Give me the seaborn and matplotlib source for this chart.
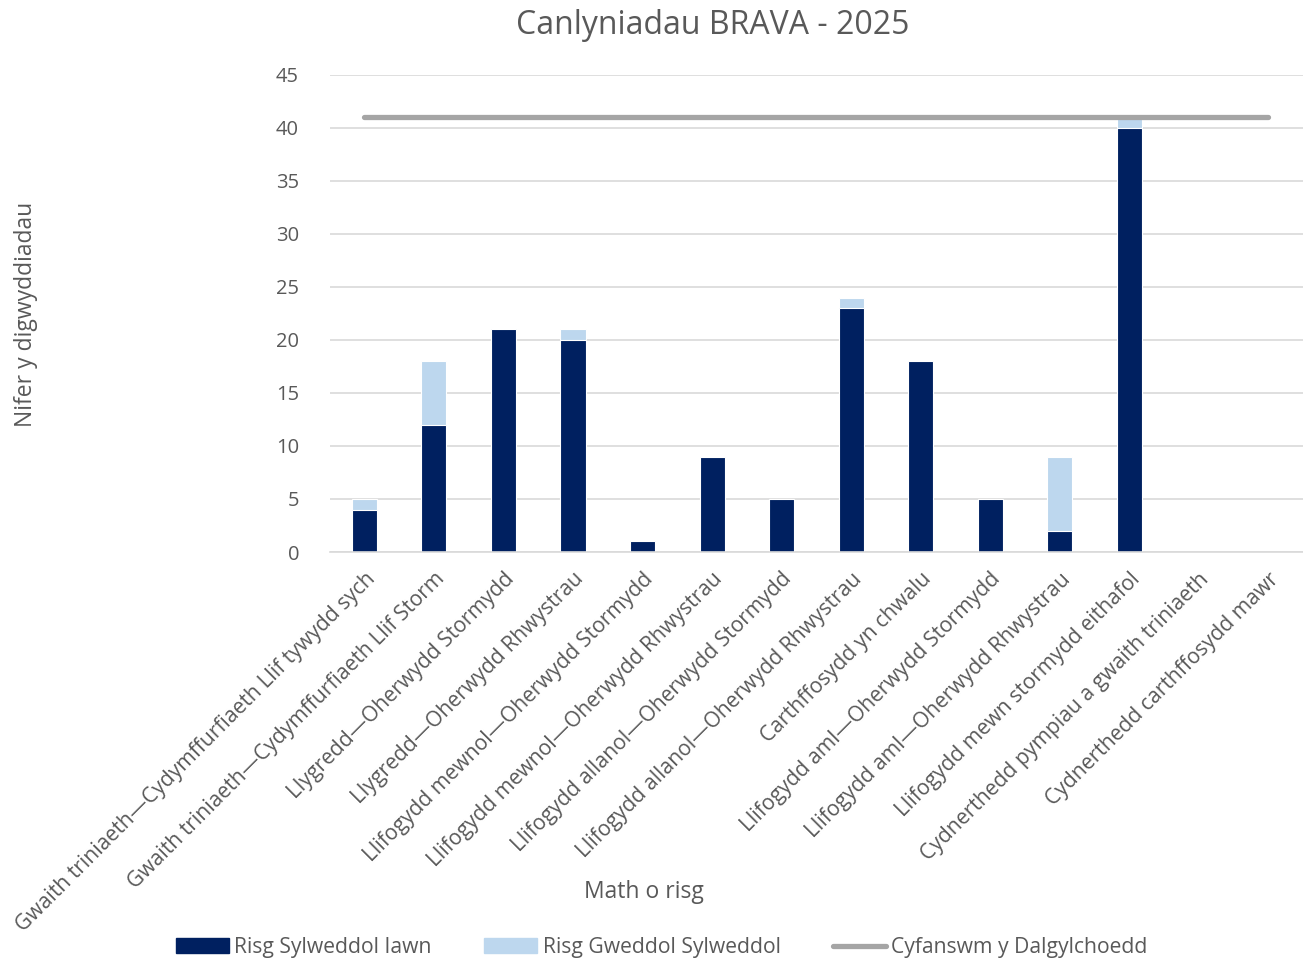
import matplotlib
matplotlib.use("Agg")
import matplotlib.pyplot as plt
import matplotlib.patches as mpatches
import matplotlib.lines as mlines
import seaborn as sns
import pandas as pd
import numpy as np

# data
categories = [
    "Gwaith triniaeth—Cydymffurfiaeth Llif tywydd sych",
    "Gwaith triniaeth—Cydymffurfiaeth Llif Storm",
    "Llygredd—Oherwydd Stormydd",
    "Llygredd—Oherwydd Rhwystrau",
    "Llifogydd mewnol—Oherwydd Stormydd",
    "Llifogydd mewnol—Oherwydd Rhwystrau",
    "Llifogydd allanol—Oherwydd Stormydd",
    "Llifogydd allanol—Oherwydd Rhwystrau",
    "Carthffosydd yn chwalu",
    "Llifogydd aml—Oherwydd Stormydd",
    "Llifogydd aml—Oherwydd Rhwystrau",
    "Llifogydd mewn stormydd eithafol",
    "Cydnerthedd pympiau a gwaith triniaeth",
    "Cydnerthedd carthffosydd mawr",
]
risg_iawn = [4, 12, 21, 20, 1, 9, 5, 23, 18, 5, 2, 40, 0, 0]
risg_gweddol = [1, 6, 0, 1, 0, 0, 0, 1, 0, 0, 7, 1, 0, 0]
cyfanswm = [41] * len(categories)

dark = "#002060"
light = "#BDD7EE"
grey_line = "#A5A5A5"
txt = "#595959"

sns.set_theme(style="white")
plt.rcParams["font.family"] = ["Open Sans", "DejaVu Sans"]

df = pd.DataFrame({"cat": categories, "iawn": risg_iawn, "gweddol": risg_gweddol})
df["total"] = df["iawn"] + df["gweddol"]

fig = plt.figure(figsize=(13.03, 9.59), dpi=100)
ax = fig.add_axes([0.253, 0.4244, 0.747, 0.4974])

sns.barplot(data=df, x="cat", y="total", color=light, width=0.36, ax=ax,
            saturation=1, edgecolor="white", linewidth=0.8)
sns.barplot(data=df, x="cat", y="iawn", color=dark, width=0.36, ax=ax,
            saturation=1, edgecolor="white", linewidth=0.8)
sns.lineplot(x=np.arange(len(categories)), y=cyfanswm, color=grey_line,
             linewidth=3.8, ax=ax, solid_capstyle="round")

ax.set_ylim(0, 45)
ax.set_xlim(-0.5, len(categories) - 0.5)
ax.set_yticks(range(0, 46, 5))
ax.yaxis.grid(True, color="#D9D9D9", linewidth=1.2)
ax.set_axisbelow(True)
for s in ["left", "right", "top"]:
    ax.spines[s].set_visible(False)
ax.spines["bottom"].set_color("#D9D9D9")
ax.spines["bottom"].set_linewidth(1.2)
ax.tick_params(axis="y", labelsize=14.5, colors=txt, pad=22, length=0)
ax.tick_params(axis="x", labelsize=15.2, colors=txt, length=0, pad=12)
ax.set_xticks(range(len(categories)))
ax.set_xticklabels(categories, rotation=45, ha="right", rotation_mode="anchor")
ax.set_xlabel("")
ax.set_ylabel("")

fig.text(0.547, 0.973, "Canlyniadau BRAVA - 2025", ha="center", va="center",
         fontsize=23, color=txt)
fig.text(0.02, 0.672, "Nifer y digwyddiadau", rotation=90, ha="center",
         va="center", fontsize=16.5, color=txt)
fig.text(0.494, 0.07, "Math o risg", ha="center", va="center",
         fontsize=16.5, color=txt)

handles = [
    mpatches.Patch(color=dark, label="Risg Sylweddol Iawn"),
    mpatches.Patch(color=light, label="Risg Gweddol Sylweddol"),
    mlines.Line2D([], [], color=grey_line, linewidth=3.8,
                  solid_capstyle="round", label="Cyfanswm y Dalgylchoedd"),
]
leg = fig.legend(handles=handles, loc="center", bbox_to_anchor=(0.508, 0.012),
                 ncol=3, frameon=False, fontsize=15.2, handlelength=2.5,
                 handleheight=0.7, handletextpad=0.25, columnspacing=2.5,
                 borderpad=0)
for t in leg.get_texts():
    t.set_color(txt)

fig.savefig("out.png", dpi=100)
